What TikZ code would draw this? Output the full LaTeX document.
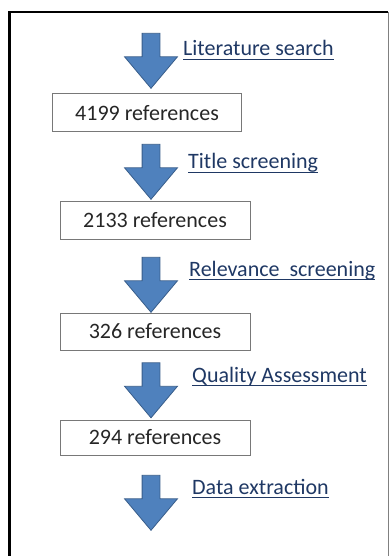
\documentclass[tikz,border=0pt]{standalone}
\usepackage{fontspec}
\setmainfont{Carlito}
\usepackage{tikz}
\usetikzlibrary{shapes.arrows}

\definecolor{arrblue}{RGB}{79,129,189}
\definecolor{arredge}{RGB}{56,93,138}
\definecolor{labblue}{RGB}{31,56,100}
\definecolor{boxgray}{RGB}{120,120,120}

\tikzset{
	refbox/.style={draw=boxgray, line width=1bp, inner sep=0pt, text=black!85},
	downarrow/.style={single arrow, rotate=-90, fill=arrblue, draw=arredge, line width=0.8bp,
		minimum height=55bp, inner xsep=0pt, inner ysep=8.5bp,
		single arrow head extend=17.5bp, single arrow tip angle=80, single arrow head indent=0pt},
	steplabel/.style={anchor=base west, inner sep=0pt, text=labblue},
	ul/.style={draw=labblue, line width=1.3bp}
}

\begin{document}
\begin{tikzpicture}[x=1bp, y=-1bp, font=\fontsize{22bp}{26bp}\selectfont]
		\useasboundingbox (0,0) rectangle (390,556);
		
		% frame
		\draw[line width=3bp] (9,556) -- (9,12);
		\draw[line width=2bp] (8,12) -- (388,12);
		\draw[line width=1bp, color=gray] (388,12) -- (388,556);
		
		% reference counts
		\node[refbox, minimum width=188bp, minimum height=38bp] (box1) at (147,113) {4199 references};
		\node[refbox, minimum width=190bp, minimum height=37bp] (box2) at (155,220.5) {2133 references};
		\node[refbox, minimum width=190bp, minimum height=37bp] (box3) at (155,331.5) {326 references};
		\node[refbox, minimum width=190bp, minimum height=35bp] (box4) at (155,437.5) {294 references};
		
		% arrows
		\node[downarrow] (arr1) at (151,55.5) {};
		\node[downarrow] (arr2) at (151,166.5) {};
		\node[downarrow] (arr3) at (151,279.5) {};
		\node[downarrow] (arr4) at (151,385) {};
		\node[downarrow] (arr5) at (151,497.5) {};
		
		% steps
		\node[steplabel] (lab1) at (183,56) {Literature search};
		\node[steplabel] (lab2) at (188,169) {Title screening};
		\node[steplabel] (lab3) at (189,276) {Relevance\ \ screening};
		\node[steplabel] (lab4) at (192,382) {Quality Assessment};
		\node[steplabel] (lab5) at (192,494) {Data extraction};
		
		\foreach \n in {lab1,lab2,lab3,lab4,lab5}
			\draw[ul] ([yshift=-3.5bp]\n.base west) -- ([yshift=-3.5bp]\n.base east);
		
		\end{tikzpicture}
\end{document}
